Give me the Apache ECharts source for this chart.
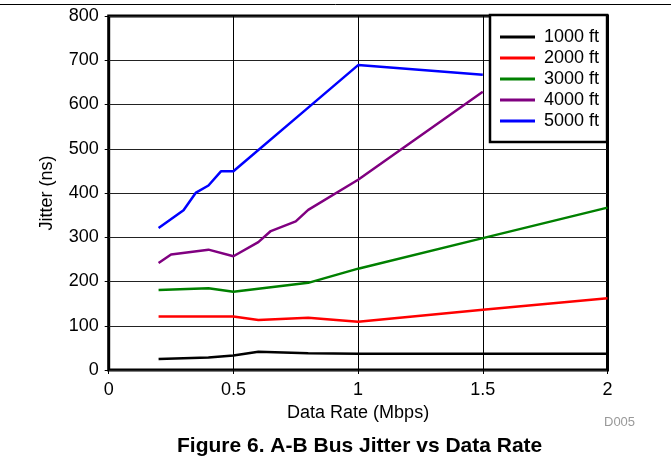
<!DOCTYPE html>
<html>
<head>
<meta charset="utf-8">
<script src="https://cdn.jsdelivr.net/npm/echarts@6/dist/echarts.min.js"></script>
<style>
  html, body { margin: 0; padding: 0; background: #fff; }
  #main { width: 671px; height: 474px; }
</style>
</head>
<body>
<div id="main"></div>
<script>
// data (x = Mbps, y = ns)
var names = ["1000 ft", "2000 ft", "3000 ft", "4000 ft", "5000 ft"];
var colors = ["#000000", "#ff0000", "#008000", "#800080", "#0000ff"];

var x1000 = [0.2, 0.4, 0.5, 0.6, 0.8, 1.0, 1.5, 2.0];
var y1000 = [25, 28, 33, 41, 38, 37, 37, 37];

var x2000 = [0.2, 0.5, 0.6, 0.8, 1.0, 1.5, 2.0];
var y2000 = [121, 121, 113, 118, 109, 136, 162];

var x3000 = [0.2, 0.4, 0.5, 0.8, 1.0, 1.5, 2.0];
var y3000 = [181, 185, 177, 197, 229, 298, 367];

var x4000 = [0.2, 0.25, 0.4, 0.5, 0.6, 0.65, 0.75, 0.8, 1.0, 1.5];
var y4000 = [242, 261, 272, 257, 289, 314, 336, 362, 430, 629];

var x5000 = [0.2, 0.3, 0.35, 0.4, 0.45, 0.5, 0.8, 1.0, 1.5];
var y5000 = [321, 361, 401, 417, 449, 449, 593, 689, 667];

var xTicks = [0, 0.5, 1, 1.5, 2];
var yTicks = [0, 100, 200, 300, 400, 500, 600, 700, 800];

var xs = [x1000, x2000, x3000, x4000, x5000];
var ys = [y1000, y2000, y3000, y4000, y5000];

function pairs(xArr, yArr) {
  var out = [];
  for (var i = 0; i < xArr.length; i++) {
    out.push([xArr[i], yArr[i]]);
  }
  return out;
}

var font = "Liberation Sans, Arial, sans-serif";

var series = names.map(function (n, i) {
  return {
    name: n,
    type: "line",
    symbol: "none",
    data: pairs(xs[i], ys[i]),
    lineStyle: { color: colors[i], width: 2.5 },
    itemStyle: { color: colors[i] },
    z: 2
  };
});

var myChart = echarts.init(document.getElementById("main"));

myChart.setOption({
  animation: false,
  backgroundColor: "#fff",
  textStyle: { fontFamily: font },
  grid: {
    left: 108.7,
    right: 63.5,
    top: 16,
    bottom: 104,
    show: true,
    borderColor: "#000",
    borderWidth: 3
  },
  legend: {
    orient: "vertical",
    left: 490,
    top: 15,
    padding: [13, 8, 12, 10],
    icon: "rect",
    itemWidth: 35,
    itemHeight: 3,
    itemGap: 3,
    backgroundColor: "#fff",
    borderColor: "#000",
    borderWidth: 2.5,
    textStyle: { fontSize: 18, lineHeight: 18, color: "#000", fontFamily: font, padding: [0, 0, 0, 4] },
    data: names,
    z: 10
  },
  xAxis: {
    type: "value",
    min: 0,
    max: 2,
    interval: 0.5,
    name: "Data Rate (Mbps)",
    nameLocation: "middle",
    nameGap: 31,
    nameTextStyle: { fontSize: 18, color: "#000", fontFamily: font },
    axisLine: { show: false },
    axisTick: { show: true, length: 4, lineStyle: { color: "#000" } },
    axisLabel: {
      fontSize: 18,
      color: "#000",
      margin: 11,
      fontFamily: font,
      formatter: function (v) {
        return xTicks.indexOf(v) >= 0 ? String(v) : "";
      }
    },
    splitLine: { show: true, lineStyle: { color: "#000", width: 1 } }
  },
  yAxis: {
    type: "value",
    min: 0,
    max: 800,
    interval: 100,
    name: "Jitter (ns)",
    nameLocation: "middle",
    nameGap: 53,
    nameTextStyle: { fontSize: 18, color: "#000", fontFamily: font },
    axisLine: { show: false },
    axisTick: { show: true, length: 4, lineStyle: { color: "#000" } },
    axisLabel: {
      fontSize: 18,
      color: "#000",
      margin: 10,
      fontFamily: font,
      formatter: function (v) {
        return yTicks.indexOf(v) >= 0 ? String(v) : "";
      }
    },
    splitLine: { show: true, lineStyle: { color: "#222", width: 1 } }
  },
  graphic: [
    {
      type: "line",
      shape: { x1: 0, y1: 4.5, x2: 671, y2: 4.5 },
      style: { stroke: "#000", lineWidth: 1 }
    },
    {
      type: "text",
      left: 604,
      top: 416,
      style: { text: "D005", fontSize: 13, fill: "#999", fontFamily: font }
    },
    {
      type: "text",
      left: 177,
      top: 436,
      style: {
        text: "Figure 6. A-B Bus Jitter vs Data Rate",
        fontSize: 21,
        fontWeight: "bold",
        fill: "#000",
        fontFamily: font
      }
    }
  ],
  series: series
});
</script>
</body>
</html>
